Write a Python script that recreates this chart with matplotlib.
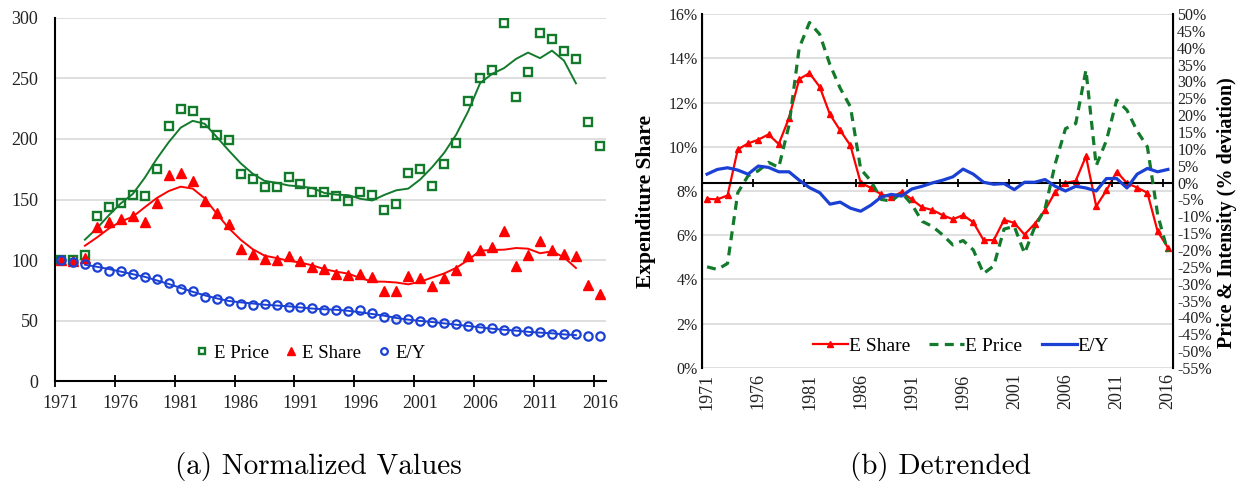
import matplotlib
matplotlib.use("Agg")
import matplotlib.pyplot as plt
import numpy as np
import pandas as pd

plt.rcParams["font.family"] = ["Liberation Serif", "DejaVu Serif"]

years = list(range(1971, 2017))
year_ticks = list(range(1971, 2017, 5))

# (a) normalized values, 1971 = 100
e_price = [100, 100, 104, 136, 144, 147, 154, 153, 175, 211,
           225, 223, 213, 203, 199, 171, 167, 160, 160, 169,
           163, 156, 156, 153, 149, 156, 154, 141, 146, 172,
           175, 161, 179, 197, 231, 250, 257, 296, 235, 255,
           288, 283, 273, 266, 214, 194]
e_share = [100, 99, 102, 127, 131, 134, 136, 131, 147, 170,
           172, 165, 149, 139, 130, 109, 105, 101, 100, 103,
           99, 94.3, 92.7, 88.8, 87.2, 88.8, 86, 74.5, 74.5, 86.6,
           85.5, 78.4, 85.2, 92, 103.4, 108.6, 110.8, 123.7, 95.1, 104.5,
           115.5, 108, 104.8, 103, 79.7, 71.5]
e_y = [100, 98, 96.8, 94.6, 91.3, 91.3, 88.8, 86, 83.9, 80.6,
       76.4, 74, 69.8, 67.9, 66, 64, 63.2, 64, 63.2, 60.8,
       60.8, 60, 59.1, 58.6, 58, 58.6, 55.8, 53, 51.4, 51.1,
       49.2, 49, 47.6, 47, 45.4, 43.7, 43.7, 42, 41.2, 41.2,
       40.1, 38.8, 38.5, 38.5, 36.8, 36.8]

# (b) detrended
share_pct = [7.65, 7.62, 7.8, 9.88, 10.15, 10.32, 10.56, 10.12, 11.3, 13.06,
             13.33, 12.71, 11.46, 10.74, 10.06, 8.37, 8.14, 7.85, 7.72, 7.95,
             7.62, 7.26, 7.14, 6.91, 6.72, 6.91, 6.58, 5.78, 5.78, 6.69,
             6.56, 6.03, 6.52, 7.13, 7.96, 8.36, 8.46, 9.57, 7.31, 8.03,
             8.87, 8.36, 8.15, 7.92, 6.17, 5.44]
price_dev = [-25, -25.8, -24, -3, 2, 3.5, 6, 4.5, 17, 40,
             47.5, 44, 35, 28, 22.5, 4, 0.5, -5, -5.5, -3,
             -6.5, -11.5, -13, -15.5, -18.5, -17.2, -20, -27, -24.7, -13.8,
             -13, -21, -13.2, -7.8, 5.6, 16, 17.5, 33.4, 5, 12.5,
             24.5, 21.5, 15.3, 10.6, -9.5, -20.6]
ey_dev = [2.5, 3.9, 4.4, 3.7, 2.5, 4.9, 4.5, 3.2, 3.2, 0.7,
          -1.5, -3, -6.4, -5.8, -7.6, -8.5, -6.7, -4.3, -3.5, -4,
          -1.9, -1.1, -0.1, 0.7, 1.7, 4.0, 2.5, 0.1, -0.5, -0.3,
          -2.1, 0.1, 0.1, 0.9, -1.1, -2.5, -1.1, -1.6, -2.5, 1.2,
          1.2, -1.6, 2.5, 4.2, 3.2, 3.9]

green = "#137a2c"
red = "#ff0000"
blue = "#1a40d4"
grid_c = "#d9d9d9"
txt = "#222222"

x = np.arange(len(years)) + 0.5
label_pos = [years.index(y) + 0.5 for y in year_ticks]

fig = plt.figure(figsize=(12.38, 4.86), dpi=100)

# ---------------- (a) ----------------
ax = fig.add_axes([0.0444, 0.216, 0.445, 0.747])
trend = pd.DataFrame({"p": e_price, "s": e_share, "y": e_y}).rolling(5, center=True).mean()

ax.plot(x, trend["p"], color=green, lw=1.4, zorder=3)
ax.plot(x, trend["s"], color=red, lw=1.4, zorder=3)
ax.plot(x, trend["y"], color=blue, lw=1.4, zorder=3)
ax.plot(x, e_price, ls="none", marker="s", ms=6, mfc="none", mec=green, mew=1.7, label="E Price", zorder=4)
ax.plot(x, e_share, ls="none", marker="^", ms=7, color=red, label="E Share", zorder=4)
ax.plot(x, e_y, ls="none", marker="o", ms=6, mfc="none", mec=blue, mew=1.6, label="E/Y", zorder=4)

ax.set_xlim(0, len(years))
ax.set_ylim(0, 300)
ax.set_yticks(range(0, 301, 50))
ax.set_xticks(range(0, len(years), 5))
ax.set_xticklabels([])
ax.set_xticks(label_pos, minor=True)
ax.set_xticklabels([str(y) for y in year_ticks], minor=True)
ax.tick_params(axis="x", which="major", direction="inout", length=8, width=1.3, color="black")
ax.tick_params(axis="x", which="minor", length=0, pad=10, labelsize=13, labelcolor=txt)
ax.tick_params(axis="y", length=0, pad=12, labelsize=13, labelcolor=txt)
ax.grid(axis="y", color=grid_c, lw=1.2)
ax.set_axisbelow(True)
for s in ["top", "right"]:
    ax.spines[s].set_visible(False)
ax.spines["left"].set_linewidth(1.5)
ax.spines["bottom"].set_linewidth(1.5)
ax.legend(loc="center", bbox_to_anchor=(0.465, 0.077), ncol=3, frameon=False,
          fontsize=13.5, handlelength=0.6, handletextpad=0.3, columnspacing=0.9, markerscale=0.8)

# ---------------- (b) ----------------
bx = fig.add_axes([0.567, 0.243, 0.3805, 0.728])
bx2 = bx.twinx()

l_share, = bx.plot(x, share_pct, color=red, lw=1.6, marker="^", ms=4.5, zorder=4, label="E Share")
l_price, = bx2.plot(x, price_dev, color=green, lw=2.3, dashes=(2.8, 2.0), zorder=3, label="E Price")
l_ey, = bx2.plot(x, ey_dev, color=blue, lw=2.3, zorder=3, label="E/Y")
bx2.axhline(0, color="black", lw=1.5, zorder=2)
bx2.plot(range(5, len(years), 5), [0] * 9, ls="none", marker="|", ms=6, mew=1.3, color="black", zorder=2)

bx.set_xlim(0, len(years))
bx.set_ylim(0, 16)
bx.set_yticks(range(0, 17, 2))
bx.set_yticklabels([f"{v}%" for v in range(0, 17, 2)])
bx2.set_ylim(-55, 50)
bx2.set_yticks(range(-55, 51, 5))
bx2.set_yticklabels([f"{v}%" for v in range(-55, 51, 5)])
bx.set_xticks(label_pos)
bx.set_xticklabels([str(y) for y in year_ticks], rotation=90)
bx.tick_params(axis="x", length=0, pad=4, labelsize=13, labelcolor=txt)
bx.tick_params(axis="y", length=0, pad=3, labelsize=11.5, labelcolor=txt)
bx2.tick_params(axis="y", length=0, pad=3, labelsize=11.5, labelcolor=txt)
bx.grid(axis="y", color=grid_c, lw=1.2)
bx.set_axisbelow(True)
for a in (bx, bx2):
    a.spines["top"].set_visible(False)
    a.spines["bottom"].set_visible(False)
bx2.spines["left"].set_linewidth(1.5)
bx2.spines["right"].set_linewidth(1.5)
bx.set_ylabel("Expenditure Share", fontsize=15.5, fontweight="bold")
bx.yaxis.set_label_coords(-0.098, 0.47)
bx2.set_ylabel("Price & Intensity (% deviation)", fontsize=14.5, fontweight="bold")
bx2.yaxis.set_label_coords(1.094, 0.44)
bx2.legend(handles=[l_share, l_price, l_ey], loc="center", bbox_to_anchor=(0.55, 0.062), ncol=3,
           frameon=False, fontsize=14, handlelength=1.8, handletextpad=0.05, columnspacing=1.0)

# captions
fig.text(0.257, 0.04, "(a) Normalized Values", ha="center", va="center", fontsize=21, family="cmr10")
fig.text(0.760, 0.04, "(b) Detrended", ha="center", va="center", fontsize=21, family="cmr10")

fig.savefig("out.png", dpi=100)
